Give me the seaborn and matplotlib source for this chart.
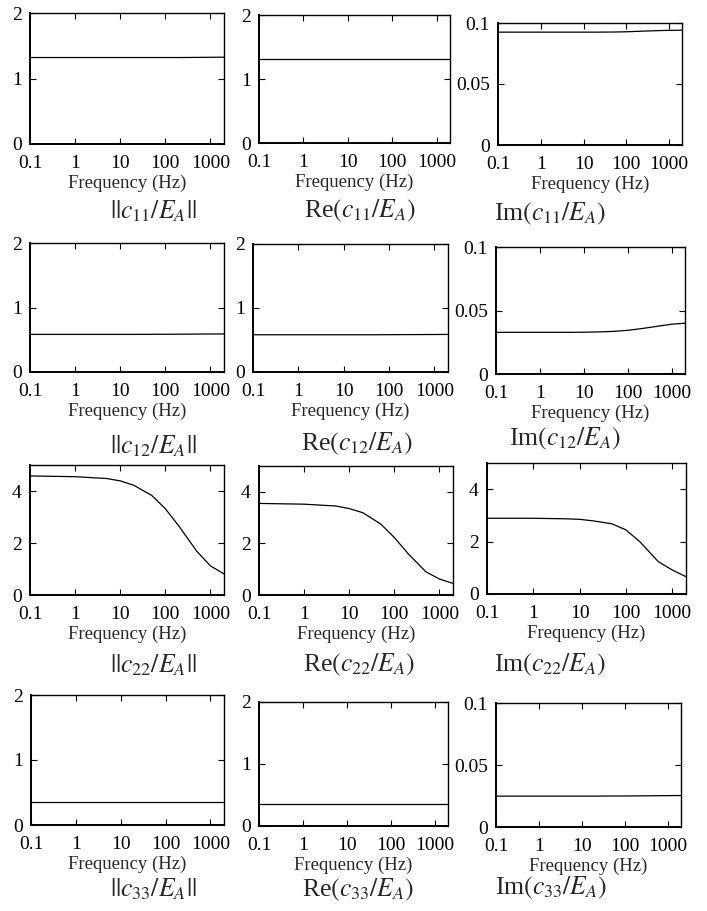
import numpy as np
import pandas as pd
import matplotlib
matplotlib.use("Agg")
import matplotlib.pyplot as plt
import seaborn as sns
from matplotlib.ticker import LogLocator, NullFormatter

# ---------------- data ----------------
freq = [0.1, 1, 5, 10, 20, 50, 100, 200, 500, 1000, 2000]

c11_abs = [1.32, 1.32, 1.32, 1.32, 1.32, 1.32, 1.32, 1.32, 1.322, 1.324, 1.325]
c11_re = [1.31, 1.31, 1.31, 1.31, 1.31, 1.31, 1.31, 1.31, 1.31, 1.31, 1.31]
c11_im = [0.0925, 0.0925, 0.0925, 0.0925, 0.0925, 0.0926, 0.0928, 0.0932, 0.0937, 0.0940, 0.0941]

c12_abs = [0.583, 0.583, 0.583, 0.583, 0.583, 0.584, 0.585, 0.586, 0.588, 0.589, 0.590]
c12_re = [0.582, 0.582, 0.582, 0.582, 0.582, 0.582, 0.583, 0.584, 0.585, 0.586, 0.587]
c12_im = [0.0328, 0.0328, 0.0328, 0.0329, 0.0331, 0.0336, 0.0344, 0.0357, 0.0377, 0.0392, 0.0400]

c22_abs = [4.58, 4.55, 4.48, 4.39, 4.22, 3.83, 3.32, 2.65, 1.68, 1.12, 0.81]
c22_re = [3.55, 3.52, 3.45, 3.35, 3.19, 2.75, 2.23, 1.61, 0.90, 0.62, 0.45]
c22_im = [2.89, 2.89, 2.87, 2.85, 2.79, 2.68, 2.45, 2.00, 1.24, 0.92, 0.66]

c33_abs = [0.36, 0.36, 0.36, 0.36, 0.36, 0.36, 0.36, 0.36, 0.36, 0.36, 0.36]
c33_re = [0.355, 0.355, 0.355, 0.355, 0.355, 0.355, 0.355, 0.355, 0.355, 0.355, 0.355]
c33_im = [0.0249, 0.0249, 0.0249, 0.0249, 0.0249, 0.0250, 0.0250, 0.0251, 0.0252, 0.0253, 0.0254]

xticks = [0.1, 1, 10, 100, 1000]
xticklabels = ["0.1", "1", "10", "100", "1000"]
yticks_2 = [0, 1, 2]
yticklabels_2 = ["0", "1", "2"]
yticks_01 = [0, 0.05, 0.1]
yticklabels_01 = ["0", "0.05", "0.1"]
yticks_5 = [0, 2, 4]
yticklabels_5 = ["0", "2", "4"]

captions = [
    [r"$||c_{11}/E_A||$", r"Re$(c_{11}/E_A)$", r"Im$(c_{11}/E_A)$"],
    [r"$||c_{12}/E_A||$", r"Re$(c_{12}/E_A)$", r"Im$(c_{12}/E_A)$"],
    [r"$||c_{22}/E_A||$", r"Re$(c_{22}/E_A)$", r"Im$(c_{22}/E_A)$"],
    [r"$||c_{33}/E_A||$", r"Re$(c_{33}/E_A)$", r"Im$(c_{33}/E_A)$"],
]

series = [
    [c11_abs, c11_re, c11_im],
    [c12_abs, c12_re, c12_im],
    [c22_abs, c22_re, c22_im],
    [c33_abs, c33_re, c33_im],
]

# ---------------- style ----------------
sns.set_style("ticks")
plt.rcParams["font.family"] = ["Liberation Serif", "DejaVu Serif"]
plt.rcParams["mathtext.fontset"] = "stix"

W, H = 707, 911
fig = plt.figure(figsize=(W / 100, H / 100), dpi=100)

# axes boxes in pixels: (x0, x1, ytop, ybottom)
boxes = [
    [(30, 224, 13, 144), (259, 450, 15, 143), (498, 682, 23, 145)],
    [(30, 224, 243, 372), (253, 448, 244, 372), (496, 685, 247, 374)],
    [(30, 224, 465, 595), (259, 453, 466, 595), (487, 686, 463, 594)],
    [(31, 224, 695, 825), (259, 448, 702, 826), (496, 681, 703, 827)],
]
cap_pos = [
    [(153, 211), (360, 211), (550, 214)],
    [(153, 446), (357, 444), (565, 439)],
    [(153, 665), (359, 665), (550, 665)],
    [(153, 889), (358, 890), (551, 888)],
]
yspecs = {
    "2": ((0, 2), yticks_2, yticklabels_2),
    "01": ((0, 0.1), yticks_01, yticklabels_01),
    "5": ((0, 5), yticks_5, yticklabels_5),
}
row_y = [["2", "2", "01"], ["2", "2", "01"], ["5", "5", "5"], ["2", "2", "01"]]

for r in range(4):
    for c in range(3):
        x0, x1, yt, yb = boxes[r][c]
        ax = fig.add_axes([x0 / W, 1 - yb / H, (x1 - x0) / W, (yb - yt) / H])
        ax.set_xscale("log")
        df = pd.DataFrame({"freq": freq, "val": series[r][c]})
        sns.lineplot(data=df, x="freq", y="val", ax=ax, color="black", lw=0.9)
        ax.set_xlim(0.1, 2000)
        ylim, yt_, ytl = yspecs[row_y[r][c]]
        ax.set_ylim(*ylim)
        ax.set_xticks(xticks)
        ax.set_xticklabels(xticklabels)
        ax.xaxis.set_minor_locator(LogLocator(base=10, subs=np.arange(2, 10)))
        ax.xaxis.set_minor_formatter(NullFormatter())
        ax.set_yticks(yt_)
        ax.set_yticklabels(ytl)
        ax.tick_params(which="both", direction="in", top=True, right=True,
                       labelsize=14, color="black", labelcolor="black")
        ax.tick_params(axis="x", which="both", pad=8)
        ax.tick_params(axis="y", which="both", pad=6)
        ax.tick_params(which="major", length=4, width=0.8)
        ax.tick_params(which="minor", length=2, width=0.6)
        ax.set_xlabel("Frequency (Hz)", fontsize=13.5, labelpad=2)
        ax.set_ylabel("")
        for s in ax.spines.values():
            s.set_linewidth(1.0)
            s.set_color("black")
        ax.spines["left"].set_linewidth(1.4)
        ax.spines["bottom"].set_linewidth(1.4)
        cx, cy = cap_pos[r][c]
        fig.text(cx / W, 1 - cy / H, captions[r][c], fontsize=18.5,
                 ha="center", va="center")

fig.savefig("out.png", dpi=100)
